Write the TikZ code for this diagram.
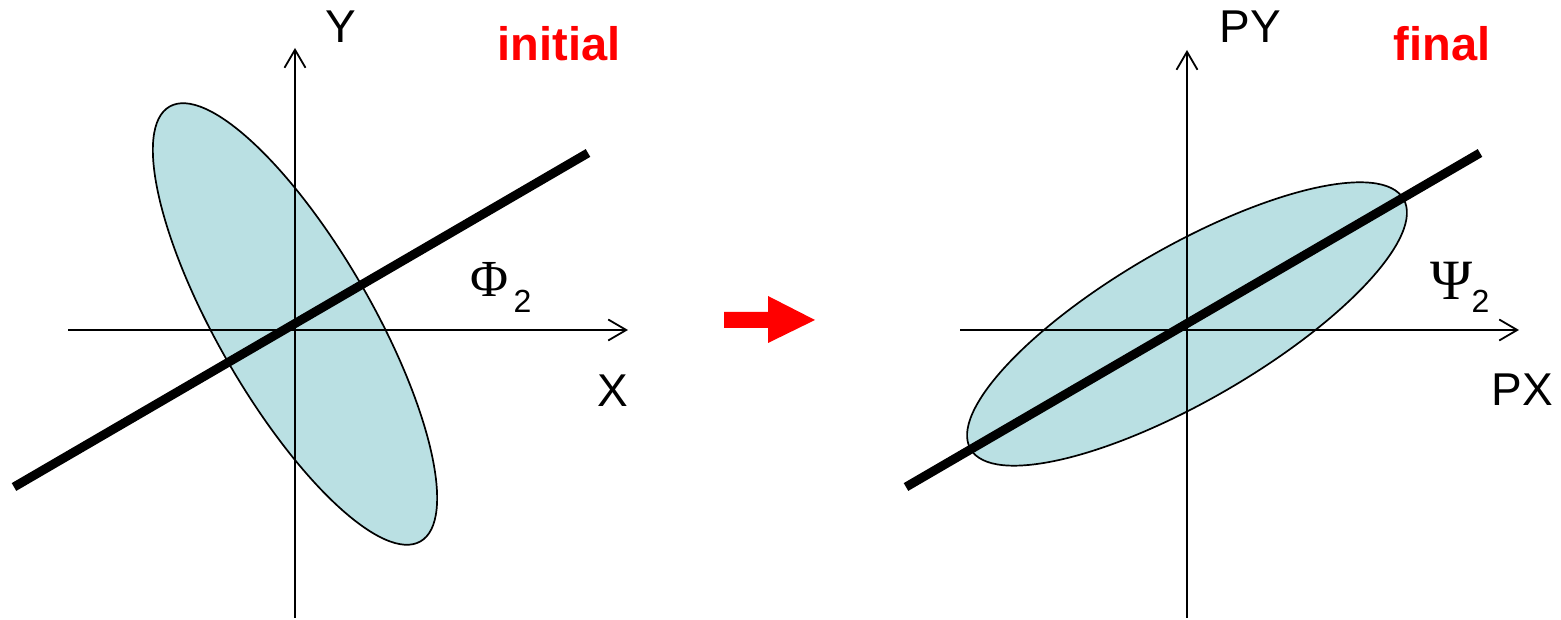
\documentclass[tikz,border=0pt]{standalone}
\usepackage{fontspec}
\setmainfont{Liberation Sans}
\newfontfamily\grk{Liberation Serif}
\usetikzlibrary{arrows.meta}
\definecolor{ellfill}{RGB}{186,224,227}
\definecolor{pured}{RGB}{255,0,0}
\begin{document}
\begin{tikzpicture}[x=1pt,y=1pt,
  axisline/.style={line width=1.8pt,-{Straight Barb[length=18pt,width=21pt,line width=1.8pt]}},
  blob/.style={fill=ellfill,draw=black,line width=1.7pt},
  thickline/.style={line width=9pt,line cap=butt},
  axlabel/.style={font=\fontsize{46}{50}\selectfont,inner sep=0pt,anchor=base},
  titlelabel/.style={font=\fontsize{47}{50}\selectfont\bfseries,text=pured,inner sep=0pt,anchor=base},
  greek/.style={font=\fontsize{52}{56}\selectfont\grk,inner sep=0pt,anchor=base},
  subl/.style={font=\fontsize{32}{34}\selectfont,inner sep=0pt,anchor=base}
]
\useasboundingbox (0,0) rectangle (1561,620);
% ---------- left panel ----------
\path[blob] (295,296) ellipse[x radius=251pt,y radius=77pt,rotate=120];
\coordinate (xl0) at (68,290);
\coordinate (xl1) at (628,290);
\coordinate (yl0) at (295,2);
\coordinate (yl1) at (295,572);
\draw[axisline] (xl0) -- (xl1);
\draw[axisline] (yl0) -- (yl1);
\coordinate (tl0) at (14,133);
\coordinate (tl1) at (588,467);
\draw[thickline] (tl0) -- (tl1);
\node[axlabel] (ylab) at (341,577) {Y};
\node[axlabel] (xlab) at (613,213) {X};
\node[titlelabel] (init) at (559,559) {initial};
\node[greek] (phi) at (489,323) {Φ};
\node[subl] (phisub) at (522.5,307) {2};
% ---------- red arrow ----------
\fill[pured] (724,308) -- (768,308) -- (768,324) -- (815,300) -- (768,277) -- (768,292) -- (724,292) -- cycle;
% ---------- right panel ----------
\path[blob] (1187,296) ellipse[x radius=250pt,y radius=77pt,rotate=30];
\coordinate (xr0) at (960,290);
\coordinate (xr1) at (1519,290);
\coordinate (yr0) at (1187,2);
\coordinate (yr1) at (1187,570);
\draw[axisline] (xr0) -- (xr1);
\draw[axisline] (yr0) -- (yr1);
\coordinate (tr0) at (906,133);
\coordinate (tr1) at (1480,467);
\draw[thickline] (tr0) -- (tr1);
\node[axlabel] (pylab) at (1250,577) {PY};
\node[axlabel] (pxlab) at (1522,214) {PX};
\node[titlelabel] (fin) at (1442,559) {final};
\node[greek,font=\fontsize{57}{60}\selectfont\grk] (psi) at (1452,320) {Ψ};
\node[subl] (psisub) at (1480.5,307) {2};
\end{tikzpicture}
\end{document}
